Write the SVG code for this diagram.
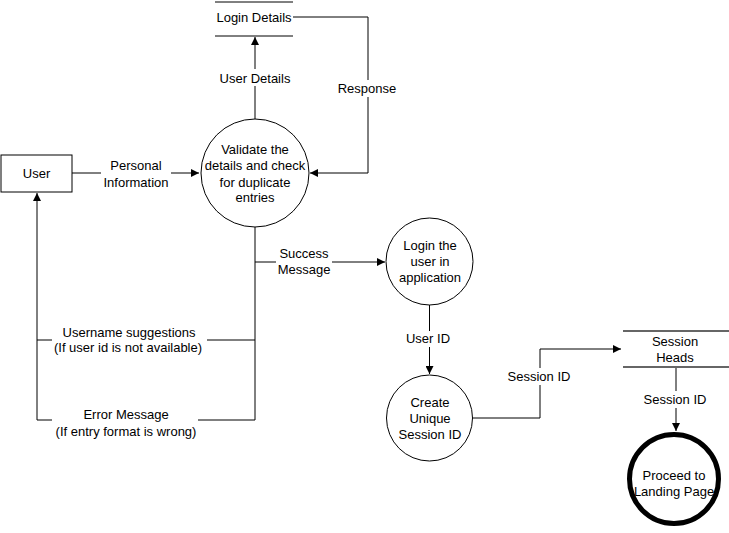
<svg xmlns="http://www.w3.org/2000/svg" width="729" height="533" viewBox="0 0 729 533">
  <defs>
    <marker id="arrow" viewBox="0 0 10 10" refX="10" refY="5" markerWidth="8" markerHeight="8" markerUnits="userSpaceOnUse" orient="auto">
      <path d="M0,0 L10,5 L0,10 z" fill="#000"/>
    </marker>
  </defs>
  <style>
    text { font-family: "Liberation Sans", Arial, sans-serif; font-size: 13px; fill: #000; text-anchor: middle; }
    .flow { fill: none; stroke: #000; stroke-width: 1; }
    .proc { fill: #fff; stroke: #000; stroke-width: 1; }
    .end { fill: #fff; stroke: #000; stroke-width: 5; }
    .store { stroke: #000; stroke-width: 1; }
    .store2 { stroke: #666; stroke-width: 2; }
    .bg { fill: #fff; }
  </style>

  <!-- connectors -->
  <g id="connectors">
    <path class="flow" d="M72,173 H199" marker-end="url(#arrow)"/>
    <path class="flow" d="M255,119 V37" marker-end="url(#arrow)"/>
    <path class="flow" d="M293,17 H368 V173 H310" marker-end="url(#arrow)"/>
    <path class="flow" d="M255,227 V420 H37 V193" marker-end="url(#arrow)"/>
    <path class="flow" d="M255,340 H37"/>
    <path class="flow" d="M255,262 H385" marker-end="url(#arrow)"/>
    <path class="flow" d="M429.5,305 V374" marker-end="url(#arrow)"/>
    <path class="flow" d="M472,418 H540 V349 H621" marker-end="url(#arrow)"/>
    <path class="flow" d="M676,367 V431" marker-end="url(#arrow)"/>

    <!-- connector labels -->
    <rect class="bg" x="216" y="69" width="78" height="17"/>
    <text x="255" y="82.5">User Details</text>
    <rect class="bg" x="335" y="80" width="64" height="17"/>
    <text x="367" y="92.5">Response</text>
    <rect class="bg" x="101" y="157" width="70" height="34"/>
    <text x="136" y="169.5">Personal</text>
    <text x="136" y="186.5">Information</text>
    <rect class="bg" x="276" y="245" width="56" height="33"/>
    <text x="304" y="257.5">Success</text>
    <text x="304" y="273.5">Message</text>
    <rect class="bg" x="52" y="324" width="155" height="32"/>
    <text x="129" y="336.5">Username suggestions</text>
    <text x="128" y="352">(If user id is not available)</text>
    <rect class="bg" x="52" y="406" width="146" height="33"/>
    <text x="126" y="419">Error Message</text>
    <text x="126" y="436">(If entry format is wrong)</text>
    <rect class="bg" x="404" y="331" width="50" height="16"/>
    <text x="428" y="343">User ID</text>
    <rect class="bg" x="505" y="368" width="70" height="17"/>
    <text x="539" y="380.5">Session ID</text>
    <rect class="bg" x="640" y="391" width="72" height="17"/>
    <text x="675" y="403.5">Session ID</text>
  </g>

  <!-- external entity -->
  <g id="user">
    <rect x="1" y="155" width="71" height="37" fill="#fff" stroke="#000" stroke-width="1"/>
    <text x="36.5" y="178">User</text>
  </g>

  <!-- data stores -->
  <g id="login-details">
    <line class="store" x1="215" y1="2" x2="293" y2="2"/>
    <line class="store" x1="215" y1="36" x2="293" y2="36"/>
    <text x="254" y="21.5">Login Details</text>
  </g>

  <g id="session-heads">
    <line class="store2" x1="623" y1="331" x2="729" y2="331"/>
    <line class="store2" x1="623" y1="367" x2="729" y2="367"/>
    <text x="675" y="345.5">Session</text>
    <text x="675" y="361.5">Heads</text>
  </g>

  <!-- processes -->
  <g id="validate">
    <circle class="proc" cx="255" cy="173" r="54"/>
    <text x="255" y="153.5">Validate the</text>
    <text x="255" y="170">details and check</text>
    <text x="255" y="186.5">for duplicate</text>
    <text x="255" y="202">entries</text>
  </g>

  <g id="login-user">
    <circle class="proc" cx="429.5" cy="261.5" r="43.5"/>
    <text x="430" y="249.5">Login the</text>
    <text x="430" y="265.5">user in</text>
    <text x="430" y="281.5">application</text>
  </g>

  <g id="create-session">
    <circle class="proc" cx="429.5" cy="418" r="43"/>
    <text x="430" y="406.5">Create</text>
    <text x="430" y="422.5">Unique</text>
    <text x="430" y="438.5">Session ID</text>
  </g>

  <g id="landing-page">
    <circle class="end" cx="674" cy="479" r="44.5"/>
    <text x="674" y="479.5">Proceed to</text>
    <text x="674" y="495.5">Landing Page</text>
  </g>
</svg>
